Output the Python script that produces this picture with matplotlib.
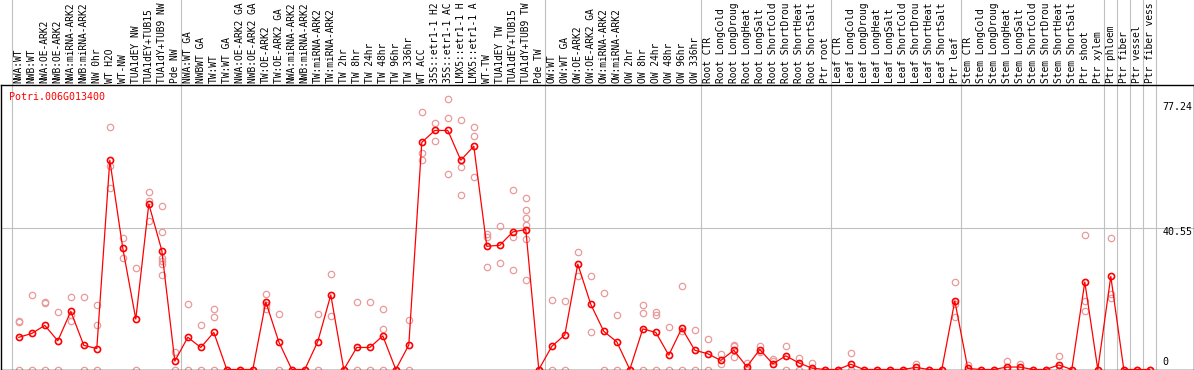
import matplotlib
matplotlib.use("Agg")
import matplotlib.pyplot as plt
import matplotlib.transforms as mtransforms

# sample labels, left to right (as far as they show in the label strip)
labels = [
    "NWA:WT", "NWB:WT", "NWA:OE-ARK2", "NWB:OE-ARK2", "NWA:miRNA-ARK2", "NWB:miRNA-ARK2",
    "NW 0hr", "WT H2O", "WT-NW", "TUA1dEY NW", "TUA1dEY+TUB15", "TUA1dY+TUB9 NW", "Pde NW",
    "NWA:WT GA", "NWBWT GA", "TW:WT", "TW:WT GA", "NWA:OE-ARK2 GA", "NWB:OE-ARK2 GA",
    "TW:OE-ARK2", "TW:OE-ARK2 GA", "NWA:miRNA-ARK2", "NWB:miRNA-ARK2", "TW:miRNA-ARK2",
    "TW:miRNA-ARK2", "TW 2hr", "TW 8hr", "TW 24hr", "TW 48hr", "TW 96hr", "TW 336hr",
    "WT ACC", "35S::etr1-1 H2", "35S::etr1-1 AC", "LMX5::etr1-1 H", "LMX5::etr1-1 A",
    "WT-TW", "TUA1dEY TW", "TUA1dEY+TUB15", "TUA1dY+TUB9 TW", "Pde TW",
    "OW:WT", "OW:WT GA", "OW:OE-ARK2", "OW:OE-ARK2 GA", "OW:miRNA-ARK2", "OW:miRNA-ARK2",
    "OW 2hr", "OW 8hr", "OW 24hr", "OW 48hr", "OW 96hr", "OW 336hr",
    "Root CTR", "Root LongCold", "Root LongDroug", "Root LongHeat", "Root LongSalt",
    "Root ShortCold", "Root ShortDrou", "Root ShortHeat", "Root ShortSalt", "Ptr root",
    "Leaf CTR", "Leaf LongCold", "Leaf LongDroug", "Leaf LongHeat", "Leaf LongSalt",
    "Leaf ShortCold", "Leaf ShortDrou", "Leaf ShortHeat", "Leaf ShortSalt", "Ptr leaf",
    "Stem CTR", "Stem LongCold", "Stem LongDroug", "Stem LongHeat", "Stem LongSalt",
    "Stem ShortCold", "Stem ShortDrou", "Stem ShortHeat", "Stem ShortSalt", "Ptr shoot",
    "Ptr xylem", "Ptr phloem", "Ptr fiber", "Ptr vessel", "Ptr fiber vess",
]

# first sample index of each group (last entry = end)
group_starts = [0, 13, 41, 53, 63, 73, 84, 85, 86, 87, 88]

# mean expression per sample
means = [
    9.2, 10.3, 12.6, 8.2, 16.6, 6.9, 6.0, 59.8, 34.6, 14.4, 47.3, 34.0, 2.4,
    9.2, 6.3, 10.6, 0, 0, 0, 19.3, 7.9, 0, 0, 8.0, 21.3, 0, 6.3, 6.3, 9.6, 0, 7.0,
    64.9, 68.3, 68.3, 59.8, 63.8, 35.2, 35.5, 39.3, 40.0, 0,
    6.6, 9.9, 30.1, 18.6, 10.9, 7.9, 0, 11.6, 10.6, 4.1, 11.8, 5.5,
    4.5, 2.6, 5.5, 0.8, 5.7, 1.6, 3.9, 1.9, 0.4, 0,
    0, 1.5, 0, 0, 0, 0, 0.6, 0, 0, 19.6,
    0.3, 0, 0, 0.7, 0.7, 0, 0, 1.3, 0, 25.0, 0,
    26.6, 0, 0, 0,
]

# individual replicates per sample
replicates = [
    [13.9, 13.5, 0], [21.3, 0], [19.2, 18.9, 0], [16.5, 0], [20.7, 15.6, 14.0], [20.7, 0],
    [18.4, 12.7, 0], [69.2, 58.2, 51.8], [37.5, 31.8], [28.9, 0], [50.6, 48.1, 42.5],
    [46.6, 39.2, 32.0, 31.1, 30.1, 26.9], [4.9, 0],
    [18.6, 0], [12.7, 0], [17.3, 14.9, 0], [0], [0], [0], [21.5, 18.4, 17.3], [15.8, 0], [0],
    [0], [16.0, 0], [27.2, 15.3], [0], [19.2, 0], [19.2, 0], [17.3, 11.5, 0], [0], [14.1, 0],
    [73.5, 61.8, 59.9], [70.3, 65.3], [77.24, 71.8, 56.0], [71.2, 57.9, 49.9], [69.2, 66.7, 55.1],
    [38.6, 37.9, 29.2], [40.9, 30.3], [51.2, 37.9, 28.3], [48.9, 45.5, 43.2, 41.3, 37.3, 25.6], [0],
    [19.8, 0], [19.5, 0], [33.5, 26.8], [26.6, 10.7], [22.0, 0], [15.6, 0], [0],
    [18.4, 16.2, 0], [16.5, 15.6, 0], [12.1, 0], [23.9, 11.0, 0], [11.2, 0],
    [8.7, 0], [4.3, 1.7], [7.0, 6.6, 3.5], [2.0, 0], [6.8, 5.1], [3.0, 2.4], [6.7, 0],
    [3.4, 0], [1.8, 0], [0],
    [0], [4.7, 0], [0], [0], [0], [0], [1.7, 0], [0], [0], [24.9, 18.6, 14.9],
    [1.3, 0], [0], [0], [2.4, 0], [1.7, 0], [0], [0], [3.9, 0], [0], [38.3, 19.6, 16.7], [0],
    [37.5, 21.5, 20.3], [0], [0], [0],
]

gene = "Potri.006G013400"
top_value = 77.24
mid_value = 40.55

W, H = 1194, 370
fig = plt.figure(figsize=(W / 100, H / 100), dpi=100)

# plot area in pixels: x 0.5..1193.5, y 85..369.5 (from top)
px_left, px_right, px_top, px_bottom = 0.5, 1193.5, 85.0, 369.5
ax = fig.add_axes([px_left / W, (H - px_bottom) / H,
                   (px_right - px_left) / W, (px_bottom - px_top) / H])

step = 13.0
x0 = 18.8
ax.set_xlim((px_left - x0) / step, (px_right - x0) / step)
ax.set_ylim(0, (px_bottom - px_top) / 3.5)

mono = "DejaVu Sans Mono"
grid_col = "#c0c0c0"
plot_h = px_bottom - px_top
strip = 1 + px_top / plot_h

# group separators, running up through the label strip
for b in group_starts:
    ax.axvline(b - 0.5, ymin=0, ymax=strip, color=grid_col, lw=0.8, clip_on=False, zorder=1)
ax.axhline(mid_value, color=grid_col, lw=0.8, zorder=1)

# replicate points
xs_rep, ys_rep = [], []
for i, reps in enumerate(replicates):
    for r in reps:
        xs_rep.append(i)
        ys_rep.append(r)
ax.plot(xs_rep, ys_rep, linestyle="none", marker="o", ms=4.6, mew=0.9,
        mfc="none", mec="#e99a9a", zorder=2)

# mean line
ax.plot(range(len(means)), means, color="#ff0000", lw=0.9, marker="o", ms=4.4,
        mew=1.2, mfc="none", mec="#ff0000", zorder=3)

# rotated sample labels
trans = mtransforms.blended_transform_factory(ax.transData, ax.transAxes)
for i, lab in enumerate(labels):
    ax.text(i, 1 + 2.0 / plot_h, lab, transform=trans, rotation=90,
            ha="center", va="bottom", family=mono, fontsize=6.9, color="black",
            clip_on=False)

ax.text(8.8 / (px_right - px_left), 1 - 12 / plot_h, gene,
        transform=ax.transAxes, ha="left", va="center", family=mono,
        fontsize=7.2, color="#ff0000")

# value labels on the right
lx = len(labels) - 0.02
for val, txt, dy in [(top_value, f"{top_value:.2f}", -8), (mid_value, f"{mid_value:.2f}", -4.5),
                     (0, "0", 7.5)]:
    ax.annotate(txt, xy=(lx, val), xytext=(0, dy), textcoords="offset pixels",
                ha="left", va="center", family=mono, fontsize=7.2, color="black",
                annotation_clip=False)

for s in ax.spines.values():
    s.set_color("black")
    s.set_linewidth(1.0)
ax.set_xticks([])
ax.set_yticks([])

fig.savefig("out.png", dpi=100)
